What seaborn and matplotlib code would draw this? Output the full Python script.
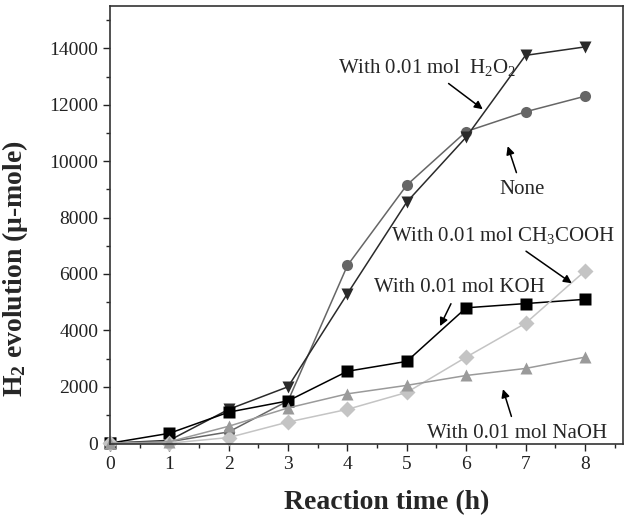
import matplotlib
matplotlib.use('Agg')
import matplotlib.pyplot as plt
from matplotlib.ticker import MultipleLocator
import pandas as pd
import seaborn as sns

hours = [0, 1, 2, 3, 4, 5, 6, 7, 8]
none_vals = [0, 50, 400, 1500, 6300, 9150, 11050, 11750, 12300]
h2o2_vals = [0, 100, 1200, 2000, 5300, 8550, 10850, 13750, 14050]
koh_vals = [0, 350, 1100, 1500, 2550, 2900, 4800, 4950, 5100]
ch3cooh_vals = [0, 0, 200, 750, 1200, 1800, 3050, 4250, 6100]
naoh_vals = [0, 50, 600, 1250, 1750, 2050, 2400, 2650, 3050]

series = ['None', 'H2O2', 'KOH', 'CH3COOH', 'NaOH']
colors = {'None': '#666666', 'H2O2': '#2a2a2a', 'KOH': '#000000',
          'CH3COOH': '#c4c4c4', 'NaOH': '#9a9a9a'}
markers = {'None': 'o', 'H2O2': 'v', 'KOH': 's', 'CH3COOH': 'D', 'NaOH': '^'}

rows = []
for name, vals in zip(series, [none_vals, h2o2_vals, koh_vals, ch3cooh_vals, naoh_vals]):
    for h, v in zip(hours, vals):
        rows.append({'Reaction time (h)': h, 'H2': v, 'Condition': name})
df = pd.DataFrame(rows)

sns.set_style('ticks')
plt.rcParams['font.family'] = ['Liberation Serif', 'DejaVu Serif']
plt.rcParams['mathtext.default'] = 'regular'

fig = plt.figure(figsize=(6.27, 5.23), dpi=100)
ax = fig.add_axes([0.1754, 0.151, 0.818, 0.8375])

sns.lineplot(data=df, x='Reaction time (h)', y='H2', hue='Condition', style='Condition',
             hue_order=series, style_order=series, palette=colors, markers=markers,
             dashes=False, markersize=8, linewidth=1.1, markeredgecolor='none',
             legend=False, clip_on=False, ax=ax)

ax.set_xlim(0, 8.64)
ax.set_ylim(-30, 15500)
ax.xaxis.set_major_locator(MultipleLocator(1))
ax.xaxis.set_minor_locator(MultipleLocator(0.5))
ax.yaxis.set_major_locator(MultipleLocator(2000))
ax.yaxis.set_minor_locator(MultipleLocator(1000))
ax.tick_params(which='major', direction='out', length=5, width=1, labelsize=14, colors='#222222')
ax.tick_params(which='minor', direction='out', length=3, width=1)
for s in ax.spines.values():
    s.set_color('#333333')
    s.set_linewidth(1.2)

ax.set_xlabel('Reaction time (h)', fontsize=20, fontweight='bold')
ax.set_ylabel('H$_2$ evolution (μ-mole)', fontsize=20, fontweight='bold')
ax.xaxis.set_label_coords(0.54, -0.106)
ax.yaxis.set_label_coords(-0.155, 0.40)

arrow = dict(arrowstyle='-|>', color='black', lw=1.1, mutation_scale=12, shrinkA=3, shrinkB=0)
fs = 15
ax.annotate('With 0.01 mol  H$_2$O$_2$', xy=(6.28, 11840), xytext=(5.34, 13330),
            ha='center', va='center', fontsize=fs, arrowprops=arrow)
ax.annotate('None', xy=(6.70, 10530), xytext=(6.94, 9000),
            ha='center', va='center', fontsize=fs, arrowprops=arrow)
ax.annotate('With 0.01 mol CH$_3$COOH', xy=(7.78, 5670), xytext=(6.62, 7380),
            ha='center', va='center', fontsize=fs, arrowprops=arrow)
ax.annotate('With 0.01 mol KOH', xy=(5.56, 4150), xytext=(5.88, 5530),
            ha='center', va='center', fontsize=fs, arrowprops=arrow)
ax.annotate('With 0.01 mol NaOH', xy=(6.62, 1915), xytext=(6.85, 355),
            ha='center', va='center', fontsize=fs, arrowprops=arrow)

fig.savefig('out.png', dpi=100)
